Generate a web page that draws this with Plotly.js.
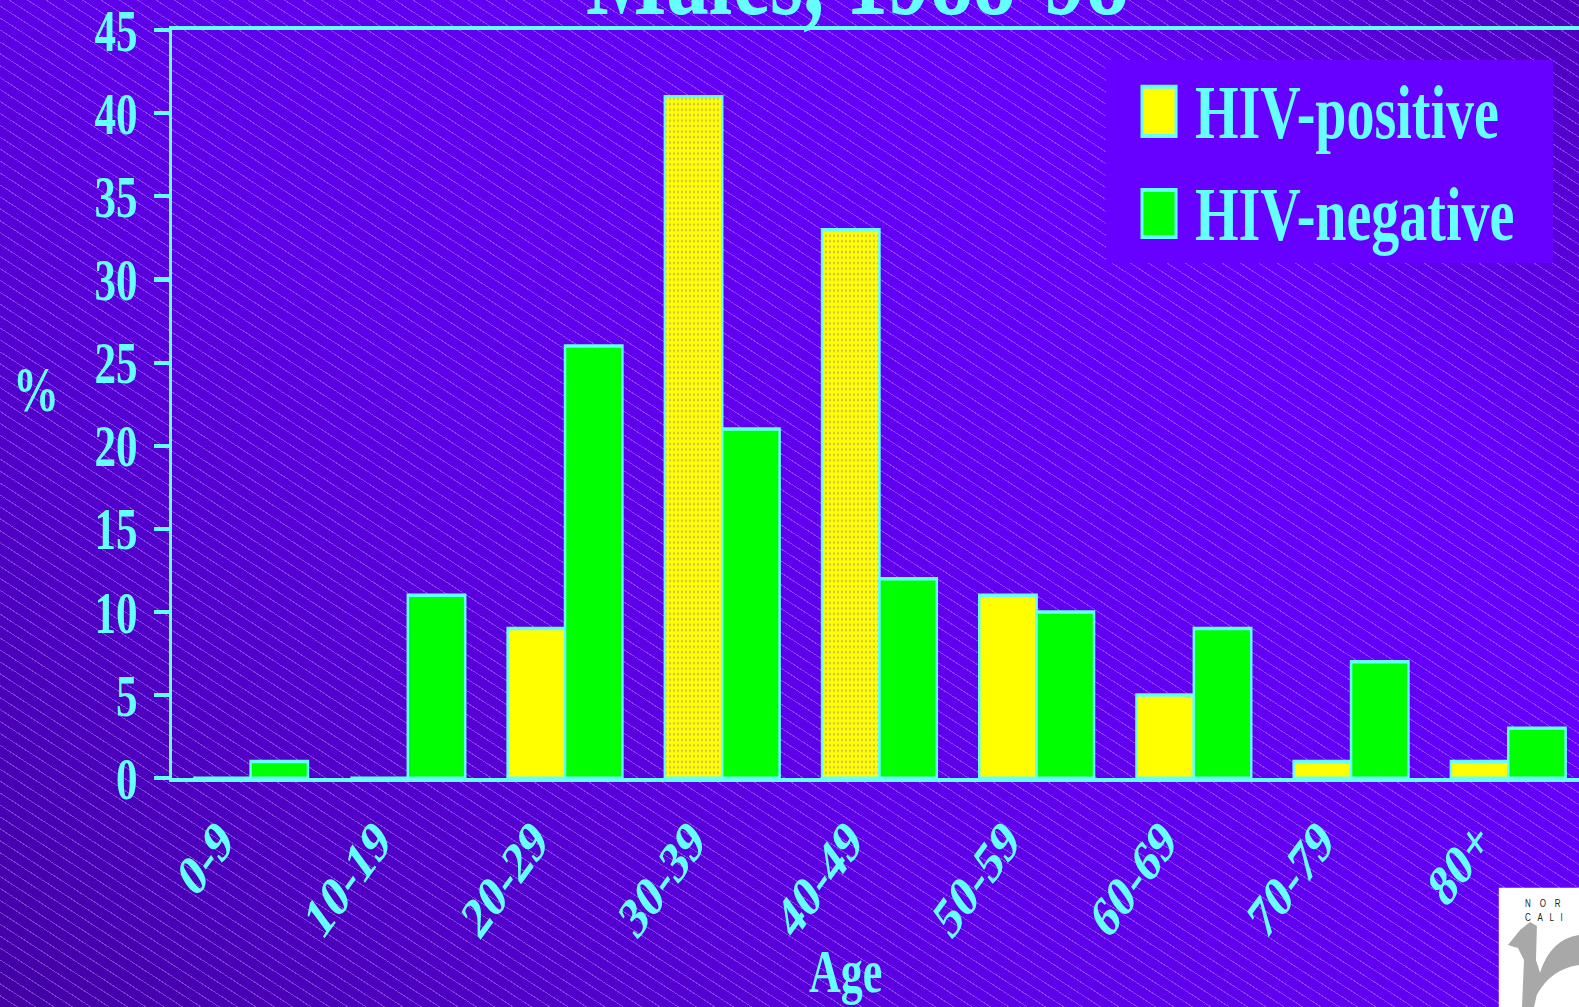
<!DOCTYPE html>
<html>
<head>
<meta charset="utf-8">
<script src="https://cdn.plot.ly/plotly-3.0.1.min.js"></script>
<style>
  html, body { margin: 0; padding: 0; width: 1579px; height: 1007px; overflow: hidden; }
  body {
    background:
      repeating-linear-gradient(33deg, rgba(0,0,0,0) 0px, rgba(0,0,0,0) 9px, rgba(200,170,255,0.38) 9px, rgba(200,170,255,0.38) 10px),
      linear-gradient(45deg, #4200A4 0%, #5E00E8 40%, #6600FF 78%, #4E00BE 100%);
  }
  #chart { width: 1579px; height: 735px; transform: scaleY(1.37); transform-origin: 0 0; }
</style>
</head>
<body>
<div id="chart"></div>
<script>
// ---- data ----
const ageGroups   = ['0-9', '10-19', '20-29', '30-39', '40-49', '50-59', '60-69', '70-79', '80+'];
const hivPositive = [0, 0, 9, 41, 33, 11, 5, 1, 1];
const hivNegative = [1, 11, 26, 21, 12, 10, 9, 7, 3];
const seriesNames = ['HIV-positive', 'HIV-negative'];
const yTickVals   = [0, 5, 10, 15, 20, 25, 30, 35, 40, 45];
const chartTitle  = 'Males, 1988-98';
const xTitle      = 'Age';
const yTitle      = '%';
const logoLines   = ['N\u00A0\u00A0\u00A0\u00A0O\u00A0\u00A0\u00A0\u00A0R', 'C\u00A0\u00A0\u00A0A\u00A0\u00A0\u00A0L\u00A0\u00A0\u00A0I'];

// ---- style ----
const CYAN = '#66FFFF';
const YELLOW = '#FFFF00';
const GREEN = '#00FF00';
const FONT = 'Liberation Serif, Times New Roman, serif';

const traces = [
  {
    type: 'bar', name: seriesNames[0], x: ageGroups, y: hivPositive,
    marker: {
      color: YELLOW,
      line: { color: CYAN, width: 2.5 },
      pattern: { shape: ['', '', '', '.', '.', '', '', '', ''], fgcolor: '#C8BC50', bgcolor: YELLOW,
                 size: 4, solidity: 0.2, fillmode: 'replace' }
    },
    showlegend: false, hoverinfo: 'skip'
  },
  {
    type: 'bar', name: seriesNames[1], x: ageGroups, y: hivNegative,
    marker: { color: GREEN, line: { color: CYAN, width: 2.5 } },
    showlegend: false, hoverinfo: 'skip'
  }
];

const shapes = [
  // legend box and swatches
  { type: 'rect', xref: 'paper', yref: 'paper', x0: 0.6638, x1: 0.9815, y0: 0.6886, y1: 0.960,
    fillcolor: '#6600FF', line: { width: 0 }, layer: 'above' },
  { type: 'rect', xref: 'paper', yref: 'paper', x0: 0.6894, x1: 0.7136, y0: 0.8584, y1: 0.9244,
    fillcolor: YELLOW, line: { color: CYAN, width: 3 }, layer: 'above' },
  { type: 'rect', xref: 'paper', yref: 'paper', x0: 0.6894, x1: 0.7136, y0: 0.7234, y1: 0.7863,
    fillcolor: GREEN, line: { color: CYAN, width: 3 }, layer: 'above' },
  // logo box
  { type: 'rect', xref: 'paper', yref: 'paper', x0: 0.943, x1: 1.02, y0: -0.45, y1: -0.1465,
    fillcolor: '#FFFFFF', line: { width: 0 }, layer: 'above' },
  // logo glyph (grey calligraphic stroke)
  { type: 'path', xref: 'paper', yref: 'paper', layer: 'above',
    path: 'M0.9495,-0.2231 L0.9581,-0.2030 L0.9652,-0.1923 L0.9701,-0.1976 L0.9694,-0.2430 ' +
          'L0.9723,-0.2600 Q0.9800,-0.2150 1.0,-0.2097 L1.0,-0.2498 Q0.9800,-0.2550 0.9700,-0.2899 ' +
          'L0.9680,-0.3059 L0.9595,-0.3059 L0.9609,-0.2430 L0.9566,-0.2270 Z',
    fillcolor: '#A8A8A8', line: { width: 0 } }
];

const bigFont = { family: FONT, size: 56, color: CYAN, weight: 'bold' };
const logoFont = { family: 'Liberation Sans, Arial, sans-serif', size: 8, color: '#222222' };

const annotations = [
  { xref: 'paper', yref: 'paper', x: 0.7257, y: 0.890, xanchor: 'left', yanchor: 'middle',
    text: seriesNames[0], showarrow: false, font: bigFont },
  { xref: 'paper', yref: 'paper', x: 0.7257, y: 0.7546, xanchor: 'left', yanchor: 'middle',
    text: seriesNames[1], showarrow: false, font: bigFont },
  { xref: 'paper', yref: 'paper', x: -0.0967, y: 0.519, xanchor: 'center', yanchor: 'middle',
    text: yTitle, showarrow: false, font: { family: FONT, size: 46, color: CYAN, weight: 'bold' } },
  { xref: 'paper', yref: 'paper', x: 0.479, y: -0.260, xanchor: 'center', yanchor: 'middle',
    text: xTitle, showarrow: false, font: { family: FONT, size: 44, color: CYAN, weight: 'bold' } },
  { xref: 'paper', yref: 'paper', x: 0.9605, y: -0.1667, xanchor: 'left', yanchor: 'middle',
    text: logoLines[0], showarrow: false, font: logoFont },
  { xref: 'paper', yref: 'paper', x: 0.9605, y: -0.1868, xanchor: 'left', yanchor: 'middle',
    text: logoLines[1], showarrow: false, font: logoFont }
];

const layout = {
  width: 1579, height: 735,
  margin: { l: 172, r: 0, t: 22, b: 167, pad: 0 },
  paper_bgcolor: 'rgba(0,0,0,0)',
  plot_bgcolor: 'rgba(0,0,0,0)',
  font: { family: FONT, color: CYAN },
  title: {
    text: chartTitle, x: 0.543, xanchor: 'center', xref: 'container',
    y: 0.986, yanchor: 'bottom', yref: 'container',
    font: { family: FONT, size: 85, color: CYAN, weight: 'bold' }
  },
  barmode: 'group', bargap: 0.27, bargroupgap: 0,
  showlegend: false,
  xaxis: {
    type: 'category', range: [-0.5, 8.45], fixedrange: true,
    showline: true, linecolor: CYAN, linewidth: 3, mirror: true,
    ticks: '', showgrid: false, zeroline: false,
    tickangle: -45, tickfont: { family: FONT, size: 43, color: CYAN, weight: 'bold' },
    ticklabelshift: -30, ticklabelstandoff: 0
  },
  yaxis: {
    range: [0, 45], tickvals: yTickVals, fixedrange: true,
    showline: true, linecolor: CYAN, linewidth: 3,
    ticks: 'outside', ticklen: 15, tickwidth: 3, tickcolor: CYAN,
    showgrid: false, zeroline: false, ticklabeloverflow: 'allow',
    tickfont: { family: FONT, size: 43, color: CYAN, weight: 'bold' },
    ticklabelstandoff: 8
  },
  shapes: shapes,
  annotations: annotations
};

Plotly.newPlot('chart', traces, layout, { staticPlot: true, displayModeBar: false });
</script>
</body>
</html>
